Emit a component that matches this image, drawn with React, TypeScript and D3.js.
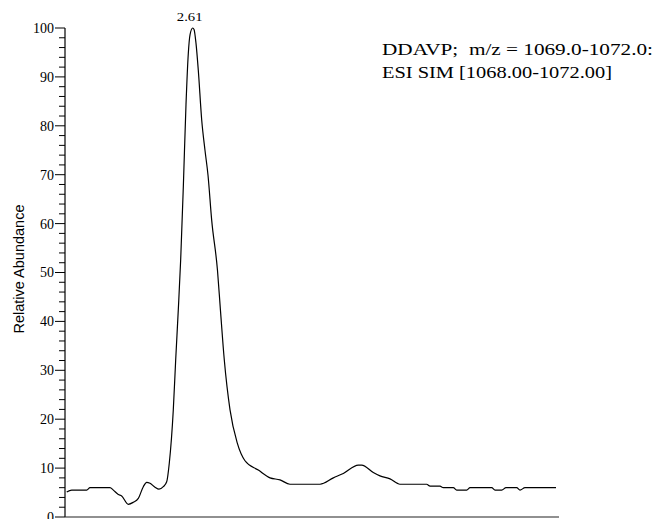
import React from "react";
import * as d3 from "d3";

const times: number[] = [
  0.035, 0.137, 0.444, 0.511, 0.92, 0.988, 1.09, 1.159, 1.294, 1.396, 1.499, 1.601, 1.67, 1.738,
  1.84, 1.922, 2.01, 2.079, 2.132, 2.214, 2.263, 2.316, 2.365, 2.419, 2.474, 2.521, 2.556, 2.611,
  2.638, 2.678, 2.725, 2.795, 2.862, 2.924, 2.999, 3.117, 3.178, 3.257, 3.374, 3.523, 3.68, 3.952,
  4.191, 4.396, 4.6, 5.214, 5.486, 5.69, 5.997, 6.066, 6.303, 6.44, 6.645, 6.849, 7.395, 7.463,
  7.667, 7.735, 7.939, 8.009, 8.213, 8.281, 8.724, 8.792, 8.929, 9.017, 9.235, 9.303, 9.405, 10.039,
];
const abundance: number[] = [
  5.1, 5.5, 5.5, 6.0, 6.0, 5.5, 4.6, 4.3, 2.6, 3.0, 3.8, 6.2, 7.1, 6.9,
  6.1, 5.7, 6.2, 7.2, 11.0, 21.9, 32.1, 42.3, 52.6, 67.5, 84.4, 94.8, 98.6, 100,
  99.7, 96.9, 91.4, 81.2, 75.0, 69.9, 60.7, 50.5, 42.3, 32.1, 21.9, 15.1, 11.5, 9.6,
  8.0, 7.6, 6.7, 6.7, 8.0, 8.9, 10.6, 10.6, 9.1, 8.4, 7.8, 6.7, 6.7, 6.3,
  6.3, 6.0, 6.0, 5.5, 5.5, 6.0, 6.0, 5.5, 5.5, 6.0, 6.0, 5.5, 6.0, 6.0,
];
const yMajorTicks: number[] = [0, 10, 20, 30, 40, 50, 60, 70, 80, 90, 100];
const peakTime = 2.611;
const peakLabel = "2.61";
const titleLines: string[] = ["DDAVP;  m/z = 1069.0-1072.0:", "ESI SIM [1068.00-1072.00]"];
const yAxisTitle = "Relative Abundance";

export default function App() {
  const W = 658, H = 519;
  const x = d3.scaleLinear().domain([0, 10.1]).range([65, 559]);
  const y = d3.scaleLinear().domain([0, 100]).range([517, 28]);
  const data = times.map((t, i) => [t, abundance[i]] as [number, number]);
  const line = d3.line<[number, number]>()
    .x(d => x(d[0]))
    .y(d => y(d[1]))
    .curve(d3.curveMonotoneX);
  const minor = d3.range(0, 101, 2).filter(v => v % 10 !== 0);
  const peakVal = abundance[times.indexOf(peakTime)];
  const serif = "'Liberation Serif', 'Times New Roman', serif";
  return (
    <svg width={W} height={H} style={{ position: "absolute", left: 0, top: 0, background: "#fff" }}>
      <line x1={65} x2={65} y1={y(100)} y2={y(0)} stroke="#000" strokeWidth={1.2} />
      <line x1={65} x2={559} y1={y(0)} y2={y(0)} stroke="#222" strokeWidth={1.2} />
      {yMajorTicks.map(v => (
        <g key={v}>
          <line x1={55} x2={65} y1={y(v)} y2={y(v)} stroke="#000" strokeWidth={1} />
          <text x={54} y={y(v)} dy="0.35em" textAnchor="end" fontFamily={serif} fontSize={14} fill="#000">{v}</text>
        </g>
      ))}
      {minor.map(v => (
        <line key={v} x1={59} x2={65} y1={y(v)} y2={y(v)} stroke="#000" strokeWidth={1} />
      ))}
      <path d={line(data) || ""} fill="none" stroke="#000" strokeWidth={1.2} />
      <text x={x(peakTime) - 3} y={y(peakVal) - 7.5} textAnchor="middle" fontFamily={serif} fontSize={12}
        textLength={25.7} lengthAdjust="spacingAndGlyphs">{peakLabel}</text>
      <text x={382} y={55} fontFamily={serif} fontSize={16.5} style={{ whiteSpace: "pre" }}
        textLength={271} lengthAdjust="spacingAndGlyphs">{titleLines[0]}</text>
      <text x={382} y={78.3} fontFamily={serif} fontSize={16.5} style={{ whiteSpace: "pre" }}
        textLength={230} lengthAdjust="spacingAndGlyphs">{titleLines[1]}</text>
      <text transform="translate(24,269) rotate(-90)" textAnchor="middle"
        fontFamily="'Liberation Sans', Arial, sans-serif" fontSize={14.5} fill="#000">{yAxisTitle}</text>
    </svg>
  );
}
